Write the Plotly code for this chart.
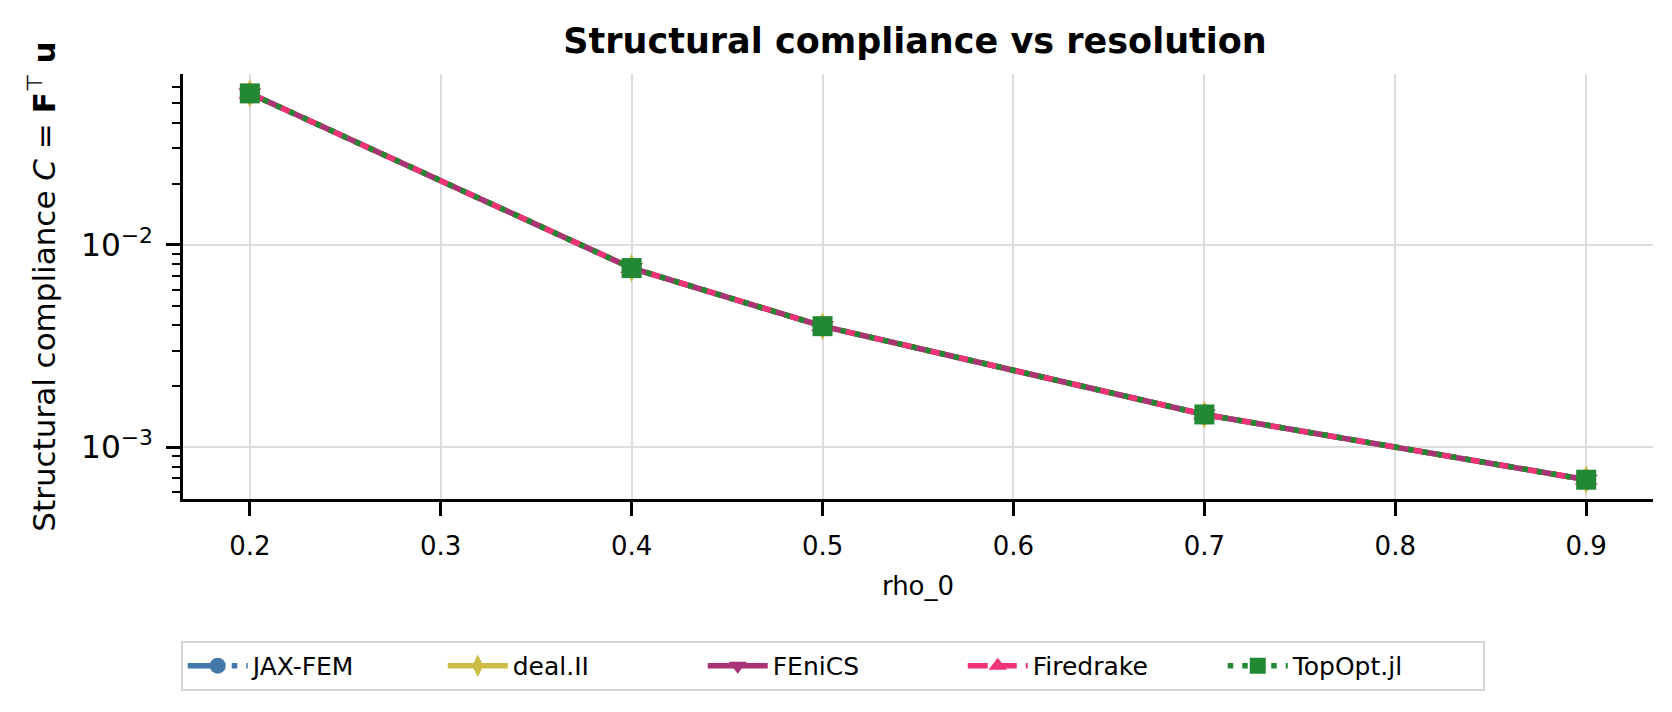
import plotly.graph_objects as go

# rho_0 values and compliance (log y axis)
rho_0 = [0.2, 0.4, 0.5, 0.7, 0.9]
jax_fem = [0.0560, 0.00767, 0.00396, 0.00145, 0.00069]
deal_ii = [0.0560, 0.00767, 0.00396, 0.00145, 0.00069]
fenics = [0.0560, 0.00767, 0.00396, 0.00145, 0.00069]
firedrake = [0.0560, 0.00767, 0.00396, 0.00145, 0.00069]
topopt_jl = [0.0560, 0.00767, 0.00396, 0.00145, 0.00069]

x_ticks = [0.2, 0.3, 0.4, 0.5, 0.6, 0.7, 0.8, 0.9]

FONT = "DejaVu Sans"

# matplotlib-like dash patterns for a ~5.5px line
DASHDOT = "35px,9px,5.5px,9px"
DASHED = "20px,9px"
DOTTED = "5.5px,9px"

series = [
    ("JAX-FEM", jax_fem, "#4477AA", DASHDOT, "circle"),
    ("deal.II", deal_ii, "#CCBB44", "solid", "diamond-tall"),
    ("FEniCS", fenics, "#AA3377", "solid", "triangle-down"),
    ("Firedrake", firedrake, "#EE3377", DASHED, "triangle-up"),
    ("TopOpt.jl", topopt_jl, "#228833", DOTTED, "square"),
]

fig = go.Figure()
for name, ys, color, dash, symbol in series:
    fig.add_trace(go.Scatter(
        x=rho_0, y=ys, name=name, mode="lines+markers",
        line=dict(color=color, width=5.5, dash=dash),
        marker=dict(symbol=symbol, size=20, color=color),
    ))

# the page body adds an 8px offset, so margins are shifted up/left by 8
fig.update_layout(
    width=1672, height=712,
    margin=dict(l=175, r=27, t=66, b=221, autoexpand=False),
    paper_bgcolor="white", plot_bgcolor="white",
    font=dict(family=FONT, size=26, color="black"),
    title=dict(text="<b>Structural compliance vs resolution</b>",
               x=0.5425, xanchor="center", y=1 - 33 / 712, yanchor="middle",
               font=dict(size=35, family=FONT, color="black")),
    legend=dict(orientation="h", x=0.442, xanchor="center",
                y=-0.334, yanchor="top",
                bgcolor="white", bordercolor="#d6d6d6", borderwidth=2,
                font=dict(size=25, family=FONT),
                itemwidth=60, entrywidth=185, entrywidthmode="pixels"),
)

fig.update_xaxes(
    range=[0.165, 0.935], tickvals=x_ticks, ticktext=[f"{v:.1f}" for v in x_ticks],
    showline=True, linewidth=3, linecolor="black", mirror=False,
    ticks="outside", ticklen=14, tickwidth=2.5, tickcolor="black",
    ticklabelstandoff=8,
    showgrid=True, gridcolor="#dddddd", gridwidth=2, zeroline=False,
    title=dict(text="rho_0", standoff=17, font=dict(size=26)),
    tickfont=dict(size=26), automargin=False,
)

fig.update_yaxes(
    type="log", range=[-3.2565, -1.156], dtick=1, exponentformat="power",
    showline=True, linewidth=3, linecolor="black", mirror=False,
    ticks="outside", ticklen=14, tickwidth=2.5, tickcolor="black",
    ticklabelstandoff=8,
    minor=dict(ticks="outside", ticklen=8, tickwidth=2, tickcolor="black", showgrid=False),
    showgrid=True, gridcolor="#dddddd", gridwidth=2, zeroline=False,
    title=dict(text="Structural compliance <i>C</i> = <b>F</b><sup>⊤</sup> <b>u</b>",
               standoff=17, font=dict(size=31)),
    tickfont=dict(size=25), automargin=False,
)

fig.write_html("out.html")
